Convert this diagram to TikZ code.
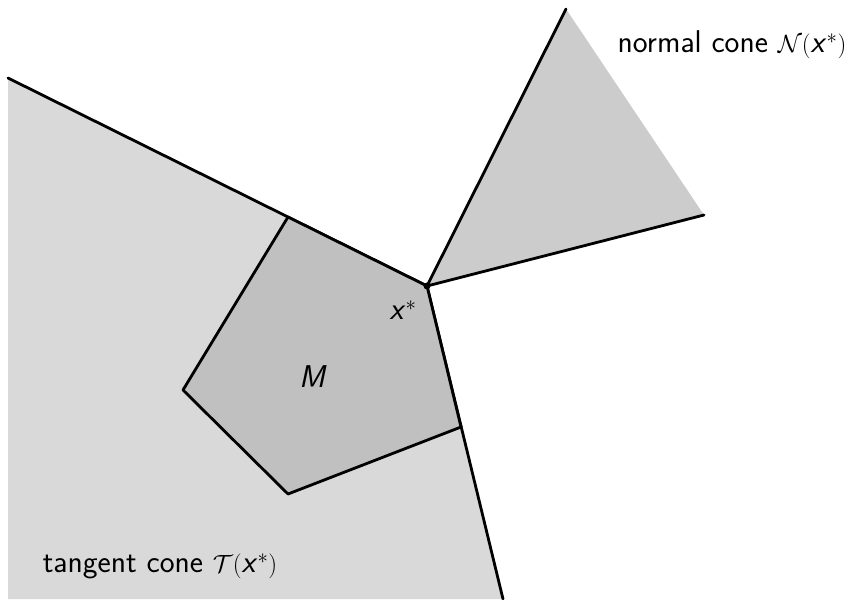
\documentclass[tikz,border=0pt]{standalone}
\usepackage{amsmath}
\begin{document}
\begin{tikzpicture}[x=1pt,y=-1pt,
  edge/.style={line width=2.8pt,line cap=round,line join=round},
  lbl/.style={font=\sffamily\fontsize{31.5}{36}\selectfont, inner sep=0pt}]
\useasboundingbox (0,0) rectangle (853,599);
\definecolor{tcone}{HTML}{D9D9D9}
\definecolor{mset}{HTML}{C0C0C0}
\definecolor{ncone}{HTML}{CCCCCC}
% coordinates
\coordinate (xs) at (427,286);
\coordinate (t1) at (8,78);
\coordinate (t2) at (503,599);
\coordinate (tb) at (8,599);
\coordinate (n1) at (566,9);
\coordinate (n2) at (704,215);
\coordinate (m1) at (288,217);
\coordinate (m3) at (461,427);
\coordinate (m4) at (288,494);
\coordinate (m5) at (183,390);
% tangent cone
\fill[tcone] (t1) -- (xs) -- (t2) -- (tb) -- cycle;
\draw[edge] (t1) -- (xs) -- (t2);
% normal cone
\fill[ncone] (xs) -- (n1) -- (n2) -- cycle;
\draw[edge] (n1) -- (xs) -- (n2);
% set M
\filldraw[fill=mset, edge] (m1) -- (xs) -- (m3) -- (m4) -- (m5) -- cycle;
% apex
\fill (xs) circle (3.5pt);
% labels
\node[lbl] (lx) at (403,310) {\textit{x}$^*$};
\node[lbl] (lm) at (313,377) {\textit{M}};
\node[lbl] (ln) at (732,45) {normal cone $\mathcal{N}(\text{\textit{x}}^*)$};
\node[lbl] (lt) at (160,566) {tangent cone $\mathcal{T}(\text{\textit{x}}^*)$};
\end{tikzpicture}
\end{document}
